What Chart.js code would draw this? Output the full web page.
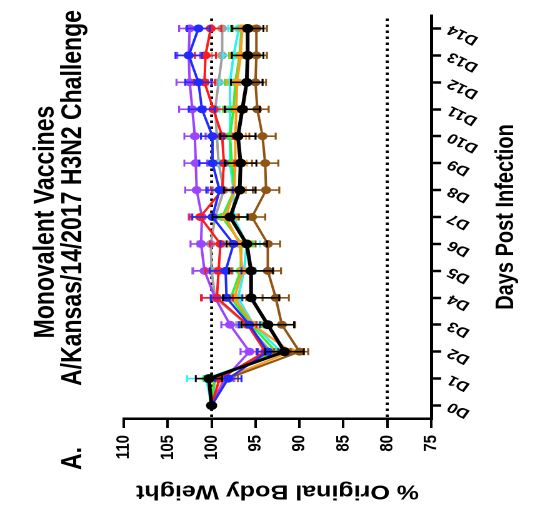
<!DOCTYPE html>
<html>
<head>
<meta charset="utf-8">
<script src="https://cdn.jsdelivr.net/npm/chart.js@4.4.1/dist/chart.umd.min.js"></script>
<style>
  html, body { margin: 0; padding: 0; background: #fff; overflow: hidden; }
  /* chart is laid out upright, then turned on its side for the figure panel */
  #panel {
    position: absolute; left: 0; top: 0;
    width: 511px; height: 429px;
    transform-origin: 0 0;
    transform: translate(0, 511px) rotate(-90deg) scale(1, 1.25);
  }
  #weightChart { display: block; width: 511px; height: 429px; }
</style>
</head>
<body>
<div id="panel"><canvas id="weightChart" width="511" height="429"></canvas></div>
<script>
const FONT = '"Liberation Sans", Arial, Helvetica, sans-serif';

const days = ["D0", "D1", "D2", "D3", "D4", "D5", "D6", "D7", "D8", "D9", "D10", "D11", "D12", "D13", "D14"];
const weightTicks = [75, 80, 85, 90, 95, 100, 105, 110];
const refValues = [100, 80];

const titleLines = ["Monovalent Vaccines", "A/Kansas/14/2017 H3N2 Challenge"];
const panelLabel = "A.";

// mean % body weight per group, D0..D14
const blackMean  = [100, 100.3, 91.7, 93.6, 95.5, 95.5, 96.0, 97.9, 96.8, 96.7, 97.0, 96.5, 96.0, 95.9, 95.9];
const brownMean  = [100, 98.2, 90.0, 92.0, 92.7, 93.6, 93.6, 95.4, 93.8, 93.9, 94.2, 94.8, 95.0, 94.9, 94.9];
const blueMean   = [100, 98.1, 93.6, 95.7, 98.3, 98.4, 97.5, 99.9, 99.1, 99.9, 99.9, 101.1, 101.5, 102.6, 101.5];
const purpleMean = [100, 98.5, 95.7, 97.9, 99.6, 100.8, 101.2, 101.1, 101.7, 101.8, 101.9, 102.2, 102.5, 102.6, 102.5];
const redMean    = [100, 99.1, 93.9, 95.9, 99.4, 99.2, 99.0, 101.3, 98.8, 98.6, 98.8, 99.8, 100.8, 100.7, 100.1];
const grayMean   = [100, 99.6, 93.2, 96.0, 99.6, 100.0, 100.1, 99.6, 98.6, 99.2, 99.4, 99.6, 99.2, 98.8, 98.8];
const cyanMean   = [100, 100.6, 92.1, 95.2, 97.0, 96.3, 96.0, 97.5, 97.5, 97.9, 97.9, 97.9, 97.9, 97.5, 96.9];
const greenMean  = [100, 99.7, 92.7, 95.5, 97.8, 96.7, 96.6, 98.8, 97.4, 97.7, 97.9, 97.5, 97.3, 96.8, 96.6];
const orangeMean = [100, 98.6, 91.0, 95.3, 97.4, 96.5, 96.8, 98.4, 97.4, 97.3, 97.3, 97.2, 97.1, 96.7, 96.5];

// error (+/-) per group, D0..D14
const blackErr  = [0, 1.5, 2.2, 3.0, 3.2, 2.5, 2.3, 2.0, 1.8, 1.8, 2.0, 2.0, 1.8, 1.8, 1.8];
const brownErr  = [0, 1.2, 1.0, 1.5, 1.5, 1.5, 1.4, 1.5, 1.5, 1.5, 1.5, 1.3, 1.2, 1.2, 1.2];
const blueErr   = [0, 1.5, 1.2, 1.2, 1.8, 1.8, 1.5, 2.3, 1.5, 1.5, 1.3, 1.5, 1.5, 1.5, 1.3];
const purpleErr = [0, 1.0, 1.0, 1.0, 1.5, 1.3, 1.2, 1.5, 1.3, 1.3, 1.2, 1.5, 1.5, 1.3, 1.2];
const redErr    = [0, 1.2, 1.0, 1.0, 1.8, 1.5, 1.2, 1.2, 1.2, 1.2, 1.2, 1.3, 1.2, 1.2, 1.2];
const grayErr   = [0, 1.0, 1.0, 1.2, 1.5, 2.2, 1.5, 1.3, 1.2, 1.2, 1.2, 1.2, 1.2, 1.2, 1.2];
const cyanErr   = [0, 2.2, 1.2, 1.2, 1.5, 1.3, 1.5, 1.5, 1.3, 1.3, 1.2, 1.2, 1.2, 1.2, 1.2];
const greenErr  = [0, 1.2, 1.2, 1.2, 1.3, 1.3, 1.3, 1.3, 1.3, 1.3, 1.2, 1.2, 1.2, 1.2, 1.2];
const orangeErr = [0, 1.2, 1.3, 1.2, 1.3, 1.3, 1.3, 1.3, 1.3, 1.3, 1.2, 1.2, 1.2, 1.2, 1.2];

const groups = [
  { data: blackMean, errors: blackErr, color: "#000000", width: 3, radius: 4.5 },
  { data: blueMean, errors: blueErr, color: "#1f2bff", width: 2, radius: 4 },
  { data: redMean, errors: redErr, color: "#ff1a1a", width: 2, radius: 4 },
  { data: purpleMean, errors: purpleErr, color: "#9b45ff", width: 2, radius: 4 },
  { data: brownMean, errors: brownErr, color: "#8f5514", width: 2, radius: 4 },
  { data: orangeMean, errors: orangeErr, color: "#ff9a1a", width: 2, radius: 4 },
  { data: greenMean, errors: greenErr, color: "#33ee33", width: 2, radius: 4 },
  { data: cyanMean, errors: cyanErr, color: "#2ef2f2", width: 2, radius: 4 },
  { data: grayMean, errors: grayErr, color: "#a0a0a0", width: 2, radius: 4 },
];

// dotted reference lines at 100% and 80%
const refLines = {
  id: "refLines",
  beforeDatasetsDraw(chart) {
    const { ctx, chartArea, scales } = chart;
    ctx.save();
    ctx.strokeStyle = "#000";
    ctx.lineWidth = 2.4;
    ctx.setLineDash([2.5, 3.5]);
    refValues.forEach((v) => {
      const py = scales.y.getPixelForValue(v);
      ctx.beginPath();
      ctx.moveTo(chartArea.left + 2, py);
      ctx.lineTo(chartArea.right, py);
      ctx.stroke();
    });
    ctx.restore();
  },
};

// vertical error bars with caps, drawn just under each group's line
const errorBars = {
  id: "errorBars",
  beforeDatasetDraw(chart, args) {
    const ds = chart.data.datasets[args.index];
    const y = chart.scales.y;
    const ctx = chart.ctx;
    ctx.save();
    ctx.strokeStyle = ds.borderColor;
    ctx.lineWidth = 1.6;
    args.meta.data.forEach((pt, i) => {
      const e = ds.errors[i];
      if (!e) return;
      const hi = y.getPixelForValue(ds.data[i] + e);
      const lo = y.getPixelForValue(ds.data[i] - e);
      ctx.beginPath();
      ctx.moveTo(pt.x, hi);
      ctx.lineTo(pt.x, lo);
      ctx.moveTo(pt.x - 3.5, hi);
      ctx.lineTo(pt.x + 3.5, hi);
      ctx.moveTo(pt.x - 3.5, lo);
      ctx.lineTo(pt.x + 3.5, lo);
      ctx.stroke();
    });
    ctx.restore();
  },
};

// two-line heading and panel letter
const heading = {
  id: "heading",
  afterDraw(chart) {
    const ctx = chart.ctx;
    ctx.save();
    ctx.fillStyle = "#000";
    ctx.font = "bold 23px " + FONT;
    ctx.textBaseline = "alphabetic";
    ctx.textAlign = "center";
    ctx.fillText(titleLines[0], 289, 43);
    ctx.fillText(titleLines[1], 313, 65);
    ctx.textAlign = "left";
    ctx.fillText(panelLabel, 41, 65);
    ctx.restore();
  },
};

const ctx = document.getElementById("weightChart").getContext("2d");
new Chart(ctx, {
  type: "line",
  data: {
    labels: days,
    datasets: groups.map((g) => ({
      data: g.data,
      errors: g.errors,
      borderColor: g.color,
      backgroundColor: g.color,
      borderWidth: g.width,
      pointRadius: g.radius,
      pointBackgroundColor: g.color,
      pointBorderWidth: 0,
      tension: 0,
      fill: false,
    })),
  },
  options: {
    responsive: false,
    animation: false,
    devicePixelRatio: 2,
    layout: { padding: { top: 99, right: 15, left: 0, bottom: 0 } },
    plugins: {
      legend: { display: false },
      tooltip: { enabled: false },
    },
    scales: {
      x: {
        type: "category",
        offset: true,
        border: { color: "#000", width: 2.5 },
        grid: {
          drawOnChartArea: false,
          drawTicks: true,
          offset: false,
          tickLength: 8,
          tickWidth: 2.5,
          tickColor: "#000",
        },
        ticks: {
          color: "#000",
          font: { family: FONT, size: 14, weight: "bold" },
          maxRotation: 60,
          minRotation: 60,
          autoSkip: false,
          padding: 2,
        },
        title: {
          display: true,
          text: "Days Post Infection",
          color: "#000",
          font: { family: FONT, size: 20, weight: "bold" },
          padding: { top: 0, bottom: 12 },
        },
        afterFit(scale) {
          scale.height = 84;
        },
      },
      y: {
        min: 75,
        max: 110,
        border: { color: "#000", width: 2.5 },
        grid: {
          drawOnChartArea: false,
          tickLength: 9,
          tickWidth: 2,
          tickColor: "#000",
        },
        afterBuildTicks(scale) {
          scale.ticks = weightTicks.map((v) => ({ value: v }));
        },
        ticks: {
          color: "#000",
          font: { family: FONT, size: 15, weight: "bold" },
          padding: 7,
        },
        title: {
          display: true,
          text: "% Original Body Weight",
          color: "#000",
          font: { family: FONT, size: 20, weight: "bold" },
          padding: { top: 8, bottom: 0 },
        },
        afterFit(scale) {
          scale.width = 92;
        },
      },
    },
  },
  plugins: [refLines, errorBars, heading],
});
</script>
</body>
</html>
